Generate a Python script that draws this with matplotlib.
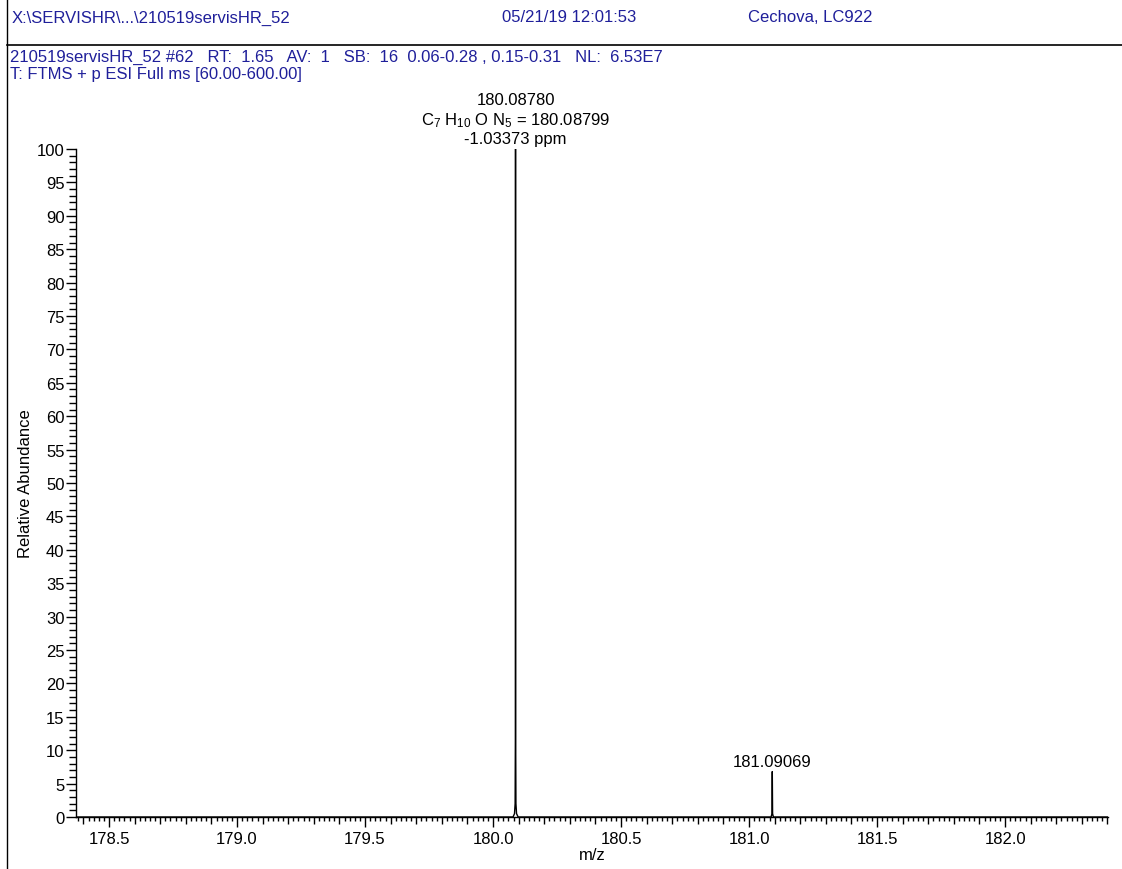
import numpy as np
import matplotlib
matplotlib.use("Agg")
import matplotlib.pyplot as plt
from matplotlib.ticker import MultipleLocator, FuncFormatter

plt.rcParams['font.family'] = ['Liberation Sans', 'DejaVu Sans']
plt.rcParams['mathtext.fontset'] = 'custom'
plt.rcParams['mathtext.rm'] = 'Liberation Sans'
plt.rcParams['mathtext.it'] = 'Liberation Sans'

# spectrum (profile points around the two peaks)
mz = [178.37, 180.078, 180.0838, 180.0862, 180.0872, 180.0878, 180.0884, 180.0894, 180.0918, 180.098,
      181.086, 181.0895, 181.0907, 181.0919, 181.095, 182.40]
intensity = [0, 0, 0.5, 2.0, 12, 100, 12, 2.0, 0.5, 0,
             0, 0.5, 6.8, 0.5, 0, 0]

peak_mz = [180.08780, 181.09069]
peak_int = [100, 6.8]
peak_labels = ["180.08780\nC$_7$ H$_{10}$ O N$_5$ = 180.08799\n-1.03373 ppm", "181.09069"]

header_file = "X:\\SERVISHR\\...\\210519servisHR_52"
header_date = "05/21/19 12:01:53"
header_user = "Cechova, LC922"
scan_line1 = "210519servisHR_52 #62   RT:  1.65   AV:  1   SB:  16  0.06-0.28 , 0.15-0.31   NL:  6.53E7"
scan_line2 = "T: FTMS + p ESI Full ms [60.00-600.00]"

W, H = 1122, 870
px = 72 / 100  # points per pixel
fs = 12
fig = plt.figure(figsize=(W / 100, H / 100), dpi=100)
ax = fig.add_axes([76 / W, 1 - 818 / H, (1108 - 76) / W, (818 - 150) / H])

ax.plot(mz, intensity, color='black', lw=1.0)
ax.set_xlim(178.371, 182.402)
ax.set_ylim(0, 100)

for s in ['top', 'right']:
    ax.spines[s].set_visible(False)
for s in ['left', 'bottom']:
    ax.spines[s].set_linewidth(1.0)

ax.yaxis.set_major_locator(MultipleLocator(5))
ax.yaxis.set_minor_locator(MultipleLocator(1))
ax.xaxis.set_major_locator(MultipleLocator(0.1))
ax.xaxis.set_minor_locator(MultipleLocator(0.02))


def xfmt(v, pos):
    if abs(v * 2 - round(v * 2)) < 1e-6:
        return f"{v:.1f}"
    return ""


ax.xaxis.set_major_formatter(FuncFormatter(xfmt))
ax.tick_params(axis='y', which='major', length=10 * px, width=1, pad=1, labelsize=fs)
ax.tick_params(axis='y', which='minor', length=7 * px, width=1)
ax.tick_params(axis='x', which='major', length=7 * px, width=1, pad=7 * px, labelsize=fs)
ax.tick_params(axis='x', which='minor', length=4 * px, width=1)
fig.canvas.draw()
for t in ax.xaxis.get_major_ticks():
    if abs(t.get_loc() * 2 - round(t.get_loc() * 2)) < 1e-6:
        t.tick1line.set_markersize(10 * px)

ax.set_xlabel("m/z", fontsize=fs, labelpad=1)
ax.set_ylabel("Relative Abundance", fontsize=fs, labelpad=3)

for x, y, lab in zip(peak_mz, peak_int, peak_labels):
    ax.annotate(lab, (x, y), xytext=(0, 2), textcoords='offset points',
                ha='center', va='bottom', fontsize=fs, linespacing=1.2,
                annotation_clip=False)

# frame lines and header text
fig.add_artist(plt.Line2D([7 / W, 7 / W], [0, 1], color='black', lw=1.0))
fig.add_artist(plt.Line2D([7 / W, 1], [1 - 46 / H, 1 - 46 / H], color='black', lw=1.2))
navy = '#1f1f9a'
fig.text(12 / W, 1 - 18 / H, header_file, color=navy, fontsize=fs, va='center')
fig.text(502 / W, 1 - 18 / H, header_date, color=navy, fontsize=fs, va='center')
fig.text(748 / W, 1 - 18 / H, header_user, color=navy, fontsize=fs, va='center')
fig.text(10 / W, 1 - 57 / H, scan_line1, color=navy, fontsize=fs, va='center')
fig.text(10 / W, 1 - 75 / H, scan_line2, color=navy, fontsize=fs, va='center')

fig.savefig("out.png", dpi=100)
